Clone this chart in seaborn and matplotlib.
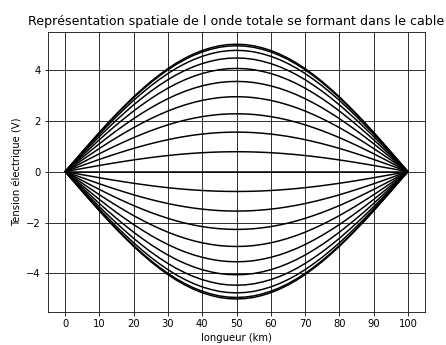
import numpy as np
import pandas as pd
import matplotlib
matplotlib.use("Agg")
import matplotlib.pyplot as plt
import seaborn as sns

# positions along the cable (km)
positions = [0, 2.5, 5, 7.5, 10, 12.5, 15, 17.5, 20, 22.5, 25, 27.5, 30, 32.5, 35,
             37.5, 40, 42.5, 45, 47.5, 50, 52.5, 55, 57.5, 60, 62.5, 65, 67.5, 70,
             72.5, 75, 77.5, 80, 82.5, 85, 87.5, 90, 92.5, 95, 97.5, 100]
# normalised spatial profile
profile = [0.0, 0.078, 0.156, 0.233, 0.309, 0.383, 0.454, 0.522, 0.588, 0.649,
           0.707, 0.760, 0.809, 0.853, 0.891, 0.924, 0.951, 0.972, 0.988, 0.997,
           1.0,
           0.997, 0.988, 0.972, 0.951, 0.924, 0.891, 0.853, 0.809, 0.760, 0.707,
           0.649, 0.588, 0.522, 0.454, 0.383, 0.309, 0.233, 0.156, 0.078, 0.0]
# peak amplitudes (V) of each drawn curve
amplitudes = [5.0, 4.94, 4.76, 4.46, 4.05, 3.54, 2.94, 2.27, 1.55, 0.78, 0.0,
              -0.78, -1.55, -2.27, -2.94, -3.54, -4.05, -4.46, -4.76, -4.94, -5.0]

rows = []
for i, a in enumerate(amplitudes):
    for x, p in zip(positions, profile):
        rows.append({"x": x, "y": a * p, "curve": i})
df = pd.DataFrame(rows)

sns.set_style("ticks")
plt.rcParams["font.family"] = ["DejaVu Sans"]
plt.rcParams.update({"text.color": "black", "axes.labelcolor": "black",
                     "xtick.color": "black", "ytick.color": "black"})

fig = plt.figure(figsize=(446 / 72, 345 / 72), dpi=72)
ax = fig.add_axes([48 / 446, 1 - 311.7 / 345, (425 - 48) / 446, (311.7 - 31.5) / 345])

sns.lineplot(data=df, x="x", y="y", units="curve", estimator=None,
             color="black", linewidth=1.5, ax=ax, legend=False)

ax.set_xlim(-5, 105)
ax.set_ylim(-5.5, 5.5)
ax.set_xticks(range(0, 101, 10))
ax.set_yticks([-4, -2, 0, 2, 4])
ax.grid(True, color="black", linewidth=0.8)
ax.set_axisbelow(True)
for s in ax.spines.values():
    s.set_visible(True)
    s.set_color("black")
    s.set_linewidth(0.8)
ax.tick_params(direction="out", length=3.5, width=0.8, labelsize=10, colors="black")
ax.set_xlabel("longueur (km)", fontsize=10, color="black")
ax.set_ylabel("Tension électrique (V)", fontsize=10, color="black")
ax.set_title("Représentation spatiale de l onde totale se formant dans le cable",
             fontsize=12.6, color="black")

fig.savefig("out.png", dpi=72)
